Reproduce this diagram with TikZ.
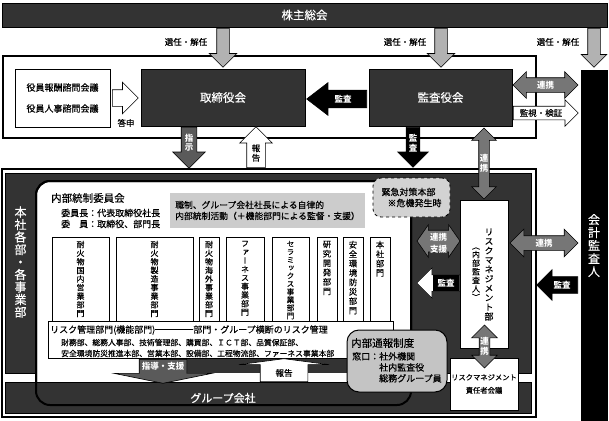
\documentclass[tikz,border=0pt]{standalone}
\usepackage{fontspec}
\setmainfont{Noto Sans CJK JP}[UprightFeatures={FakeBold=0.35}]
\newfontfamily\tatefont{Noto Sans CJK JP}[RawFeature=+vert,UprightFeatures={FakeBold=0.35}]
\usetikzlibrary{shapes.arrows,positioning}

\definecolor{dk}{HTML}{333333}
\definecolor{lg}{HTML}{B2B2B2}
\definecolor{mg}{HTML}{767676}
\definecolor{sg}{HTML}{5A5A5A}
\definecolor{bg}{HTML}{CCCCCC}
\definecolor{bb}{HTML}{C4C4C4}
\definecolor{kb}{HTML}{D2D2D2}

% stack the characters of a word one under the other
\makeatletter
\newcommand\tate[1]{\tate@a#1\relax}
\def\tate@a#1#2{#1\ifx\relax#2\expandafter\@gobble\else\expandafter\@firstofone\fi{\\\tate@a#2}}
\makeatother

\tikzset{
  blk/.style={draw=black,fill=dk,text=white,line width=.8pt,inner sep=0pt},
  wbox/.style={draw=black,fill=white,line width=.6pt,inner sep=0pt},
  lbl/.style={inner sep=0pt,font=\fontsize{8.5}{10}\selectfont},
  wlbl/.style={inner sep=0pt,text=white,font=\bfseries\fontsize{8.5}{10}\selectfont},
  tt/.style={align=center,inner sep=0pt,font=\tatefont\fontsize{8}{8.6}\selectfont},
  wtt/.style={tt,text=white,font=\tatefont\bfseries\fontsize{8.5}{9.5}\selectfont},
  sarr/.style n args={3}{single arrow,draw=black,line width=.6pt,inner sep=0pt,
    inner ysep=#1,single arrow head extend=#2,minimum height=#3,minimum width=0pt,anchor=tail},
  darr/.style n args={3}{double arrow,draw=black,line width=.6pt,inner sep=0pt,
    inner ysep=#1,double arrow head extend=#2,minimum height=#3,minimum width=0pt}
}

\begin{document}
\begin{tikzpicture}[x=1pt,y=-1pt]
  \useasboundingbox (0,0) rectangle (609,420);

  % top part
  \node[blk,minimum width=605,minimum height=24,font=\fontsize{11.5}{13}\selectfont] (kabu) at (304.5,15) {株主総会};
  \draw[line width=1.2pt] (3,56) rectangle (536,138);
  \node[wbox,minimum width=95,minimum height=58,align=center,font=\fontsize{9}{21}\selectfont] (shimon) at (62.5,98) {役員報酬諮問会議\\役員人事諮問会議};
  \node[blk,minimum width=164,minimum height=57,font=\fontsize{11.5}{13}\selectfont] (tori) at (223,97.5) {取締役会};
  \node[blk,minimum width=143,minimum height=57,font=\fontsize{11.5}{13}\selectfont] (kansa) at (440.5,97.5) {監査役会};
  \node[tt,fill=black,text=white,minimum width=27,minimum height=351,font=\tatefont\fontsize{12}{13}\selectfont] (kaikei) at (594,245.5) {\tate{会計監査人}};

  % lower part
  \draw[fill=white,line width=1.2pt] (2,169) rectangle (536,417);
  \draw[fill=dk,line width=.8pt] (5,173) rectangle (531,373);
  \draw[fill=white,line width=2pt,rounded corners=14] (36,181) rectangle (411,405);
  \fill[dk] (140,359) rectangle (411,373);
  \draw[fill=dk,line width=.8pt] (5,382) rectangle (531,413);
  \draw[line width=2pt,rounded corners=14] (36,181) rectangle (411,405);
  \node[tt,text=white,font=\tatefont\fontsize{12}{12.5}\selectfont] (honsha) at (20.5,262) {\tate{本社各部・各事業部}};
  \node[text=white,font=\fontsize{11}{13}\selectfont] (group) at (223,398) {グループ会社};

  \node[anchor=west,inner sep=0pt,font=\fontsize{10.5}{12}\selectfont] (iinkai) at (51,198) {内部統制委員会};
  \node[anchor=west,inner sep=0pt,align=left,font=\fontsize{9}{11}\selectfont] (iin) at (61,218.5) {委員長：代表取締役社長\\委　員：取締役、部門長};
  \node[fill=bg,minimum width=195,minimum height=35,inner sep=0pt,align=left,font=\fontsize{8.8}{11}\selectfont] (jiritsu) at (267.5,210.5) {職制、グループ会社社長による自律的\\内部統制活動（＋機能部門による監督・支援）};

  \node[wbox,minimum width=57,minimum height=90] (d1) at (80.5,282) {};
  \node[wbox,minimum width=77,minimum height=90] (d2) at (154.5,282) {};
  \node[wbox,minimum width=20,minimum height=90] (d3) at (209,282) {};
  \node[wbox,minimum width=38,minimum height=90] (d4) at (245,282) {};
  \node[wbox,minimum width=37,minimum height=90] (d5) at (290.5,282) {};
  \node[wbox,minimum width=20,minimum height=90] (d6) at (327,282) {};
  \node[wbox,minimum width=20,minimum height=90] (d7) at (353,282) {};
  \node[wbox,minimum width=20,minimum height=90] (d8) at (380,282) {};
  \node[tt,below=4pt of d1.north] (d1t) {\tate{耐火物国内営業部門}};
  \node[tt,below=4pt of d2.north] (d2t) {\tate{耐火物製造事業部門}};
  \node[tt,below=4pt of d3.north] (d3t) {\tate{耐火物海外事業部門}};
  \node[tt,below=4pt of d4.north] (d4t) {\tate{ファーネス事業部門}};
  \node[tt,below=4pt of d5.north,font=\tatefont\fontsize{7.6}{8}\selectfont] (d5t) {\tate{セラミックス事業部門}};
  \node[tt,below=4pt of d6.north,font=\tatefont\fontsize{8.3}{9.4}\selectfont] (d6t) {\tate{研究開発部門}};
  \node[tt,below=4pt of d7.north,font=\tatefont\fontsize{8.3}{9.4}\selectfont] (d7t) {\tate{安全環境防災部門}};
  \node[tt,below=4pt of d8.north,font=\tatefont\fontsize{8.3}{9.4}\selectfont] (d8t) {\tate{本社部門}};

  \node[wbox,anchor=north west,minimum width=345,minimum height=37] (rk) at (48,321) {};
  \node[anchor=west,inner sep=0pt,font=\fontsize{9}{11}\selectfont] (rk1) at (50,330) {リスク管理部門(機能部門)\rule[3pt]{38pt}{.6pt}部門・グループ横断のリスク管理};
  \node[anchor=west,inner sep=0pt,align=left,font=\fontsize{7.8}{11}\selectfont] (rk2) at (61,348) {財務部、総務人事部、技術管理部、購買部、ＩＣＴ部、品質保証部、\\安全環境防災推進本部、営業本部、設備部、工程物流部、ファーネス事業本部};

  \node[draw=black,fill=bb,line width=1pt,rounded corners=12,minimum width=100,minimum height=62] (tsuho) at (397,361) {};
  \node[anchor=west,inner sep=0pt,font=\fontsize{10.5}{12}\selectfont] (tsuho1) at (351,343) {内部通報制度};
  \node[anchor=north west,inner sep=0pt,align=left,font=\fontsize{9}{11}\selectfont] (tsuho2) at (352,352) {窓口：社外機関\\　　　社内監査役\\　　　総務グループ員};

  \node[draw=black,dashed,fill=kb,line width=.8pt,rounded corners=8,minimum width=77,minimum height=39,inner sep=0pt,align=left,font=\fontsize{9}{11}\selectfont] (kinkyu) at (411.5,197.5) {緊急対策本部\\\hspace{6pt}※危機発生時};

  \node[wbox,minimum width=48,minimum height=148] (risk) at (484,274) {};
  \node[tt,font=\tatefont\fontsize{9}{9.4}\selectfont] (riskt) at (489,274.5) {\tate{リスクマネジメント部}};
  \node[tt,font=\tatefont\fontsize{8}{8.6}\selectfont] (riskn) at (476,274) {\tate{（内部監査人）}};
  \node[wbox,minimum width=68,minimum height=52,align=center,font=\fontsize{7.3}{13}\selectfont] (sekinin) at (484,384) {リスクマネジメント\\責任者会議};

  % arrows
  \node[sarr={6}{7.5}{39},fill=lg,rotate=-90] (sen1) at (223,28) {};
  \node[sarr={6}{7.5}{39},fill=lg,rotate=-90] (sen2) at (441,28) {};
  \node[sarr={6}{6.5}{39},fill=lg,rotate=-90] (sen3) at (594,28) {};
  \node[lbl] (sen1l) at (186,42) {選任・解任};
  \node[lbl] (sen2l) at (405,42) {選任・解任};
  \node[lbl] (sen3l) at (558,42) {選任・解任};

  \node[sarr={8}{7.5}{26},fill=white] (toushin) at (112,98) {};
  \node[lbl] (toushinl) at (126,123) {答申};
  \node[sarr={8.5}{7.5}{60},fill=black,rotate=180,single arrow tip angle=75] (kansa1) at (367,99) {};
  \node[wlbl] (kansa1l) at (343,99) {監査};
  \node[darr={7}{6}{65},fill=mg] (ren1) at (545.5,85) {};
  \node[wlbl] (ren1l) at (ren1) {連携};
  \node[sarr={6.5}{6.5}{65},fill=white] (kanshi) at (513,113) {};
  \node[lbl] (kanshil) at (541,113) {監視・検証};

  \node[sarr={7.5}{8.5}{41},fill=sg,rotate=-90] (shiji) at (189,127) {};
  \node[wtt] (shijil) at (189,143) {\tate{指示}};
  \node[sarr={9}{7}{41},fill=white,rotate=90] (hou1) at (256,168) {};
  \node[tt,font=\tatefont\fontsize{8.5}{9.5}\selectfont] (hou1l) at (256,153) {\tate{報告}};
  \node[sarr={6.5}{8.5}{40},fill=black,rotate=-90] (kansa2) at (413,127) {};
  \node[wtt] (kansa2l) at (413,143) {\tate{監査}};
  \node[darr={5}{7}{71},fill=mg,rotate=90] (ren2) at (484,163.5) {};
  \node[wtt] (ren2l) at (ren2) {\tate{連携}};

  \node[darr={10.5}{5.5}{43},fill=mg,double arrow tip angle=110] (ren3) at (438.5,241) {};
  \node[wlbl,align=center,font=\bfseries\fontsize{8.5}{12}\selectfont] (ren3l) at (438.5,243) {連携\\支援};
  \node[sarr={8}{7}{43},fill=white,rotate=180] (kansa3) at (460,283) {};
  \node[fill=black,text=white,minimum width=26,minimum height=16,inner sep=0pt,font=\bfseries\fontsize{8.5}{10}\selectfont] (kansa3l) at (446,283) {監査};
  \node[darr={7}{6.5}{68},fill=mg] (ren4) at (544,243) {};
  \node[wlbl] (ren4l) at (ren4) {連携};
  \node[sarr={8}{7}{41},fill=black,rotate=180] (kansa4) at (578,285) {};
  \node[wlbl] (kansa4l) at (562,285) {監査};
  \node[darr={5}{7.5}{43},fill=mg,rotate=90] (ren5) at (484.5,346.5) {};
  \node[wtt] (ren5l) at (ren5) {\tate{連携}};

  \node[sarr={23.5}{25}{24},fill=sg,rotate=-90,single arrow tip angle=157] (shidou) at (163,359) {};
  \node[wlbl] (shidoul) at (163,366) {指導・支援};
  \node[sarr={23.5}{21.5}{23},fill=white,rotate=90,single arrow tip angle=165] (hou2) at (284,382) {};
  \node[lbl] (hou2l) at (284,373) {報告};
\end{tikzpicture}
\end{document}
